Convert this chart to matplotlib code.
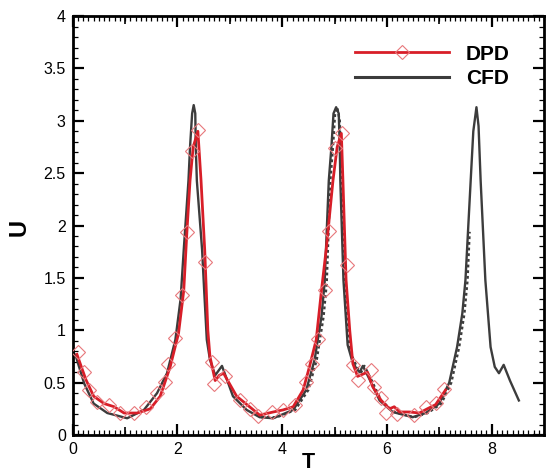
import numpy as np
import matplotlib
matplotlib.use("Agg")
import matplotlib.pyplot as plt
from matplotlib.ticker import MultipleLocator, FormatStrFormatter, FixedLocator, NullFormatter
from matplotlib.lines import Line2D

plt.rcParams["font.family"] = ["Liberation Sans", "DejaVu Sans"]

# CFD, solid run (T, U)
cfd_t = [0.00, 0.06, 0.22, 0.40, 0.66, 1.04, 1.36, 1.61, 1.80, 1.96, 2.06, 2.12,
         2.21, 2.24, 2.28, 2.31, 2.34, 2.35, 2.37, 2.42, 2.47, 2.51, 2.56, 2.62,
         2.72, 2.85, 3.06, 3.32, 3.57, 3.83, 4.21, 4.46, 4.62, 4.75, 4.81, 4.89,
         4.94, 4.98, 5.03, 5.08, 5.10, 5.11, 5.17, 5.25, 5.33, 5.42, 5.48, 5.54,
         5.67, 5.86, 6.11, 6.49, 6.74, 7.00, 7.19, 7.34, 7.44, 7.50, 7.60, 7.65,
         7.71, 7.75, 7.79, 7.88, 7.98, 8.06, 8.14, 8.23, 8.35, 8.52]
cfd_u = [0.80, 0.75, 0.49, 0.30, 0.21, 0.16, 0.24, 0.40, 0.59, 0.91, 1.30, 1.77,
         2.43, 2.75, 3.07, 3.15, 3.07, 2.75, 2.43, 2.10, 1.77, 1.38, 0.91, 0.72,
         0.57, 0.66, 0.37, 0.24, 0.17, 0.16, 0.24, 0.43, 0.72, 1.13, 1.45, 2.43,
         2.75, 3.07, 3.13, 3.07, 2.75, 2.43, 1.48, 0.86, 0.72, 0.63, 0.60, 0.66,
         0.53, 0.33, 0.22, 0.17, 0.21, 0.30, 0.50, 0.84, 1.16, 1.48, 2.43, 2.90,
         3.13, 2.95, 2.43, 1.48, 0.84, 0.65, 0.59, 0.67, 0.52, 0.33]

# CFD, second (dotted) run
cfd2_t = [3.60, 3.90, 4.25, 4.50, 4.66, 4.79, 4.85, 4.92, 4.97, 5.01, 5.05, 5.10,
          5.13, 5.19, 5.28, 5.36, 5.45, 5.51, 5.57, 5.70, 5.89, 6.14, 6.52, 6.78,
          7.04, 7.23, 7.38, 7.48, 7.54, 7.58]
cfd2_u = [0.17, 0.17, 0.24, 0.43, 0.72, 1.13, 1.45, 2.43, 2.75, 3.07, 3.13, 3.00,
          2.43, 1.48, 0.86, 0.72, 0.63, 0.60, 0.66, 0.53, 0.33, 0.22, 0.17, 0.21,
          0.30, 0.50, 0.84, 1.16, 1.48, 1.94]

# DPD line
dpd_t = [0.08, 0.25, 0.40, 0.60, 0.79, 0.98, 1.23, 1.48, 1.67, 1.86, 2.02, 2.12,
         2.18, 2.24, 2.30, 2.39, 2.45, 2.52, 2.58, 2.62, 2.72, 2.80, 2.88, 3.13,
         3.45, 3.57, 3.83, 4.02, 4.21, 4.40, 4.52, 4.65, 4.75, 4.84, 4.97, 5.05,
         5.13, 5.16, 5.22, 5.29, 5.35, 5.44, 5.63, 5.73, 5.89, 6.05, 6.14, 6.24,
         6.43, 6.62, 6.77, 6.93, 7.12]
dpd_u = [0.77, 0.53, 0.37, 0.30, 0.27, 0.21, 0.21, 0.25, 0.37, 0.65, 0.97, 1.38,
         1.94, 2.43, 2.75, 2.90, 2.43, 1.77, 1.00, 0.75, 0.52, 0.57, 0.59, 0.37,
         0.24, 0.19, 0.22, 0.24, 0.27, 0.43, 0.65, 0.91, 1.38, 1.77, 2.43, 2.75,
         2.88, 2.43, 1.48, 1.00, 0.68, 0.56, 0.60, 0.46, 0.33, 0.25, 0.27, 0.22,
         0.22, 0.21, 0.25, 0.29, 0.43]

# DPD samples (diamonds)
dpd_mt = [0.10, 0.22, 0.31, 0.47, 0.69, 0.91, 1.17, 1.39, 1.61, 1.77, 1.82, 1.96,
          2.08, 2.18, 2.28, 2.40, 2.53, 2.66, 2.69, 2.91, 3.19, 3.38, 3.54, 3.80,
          4.02, 4.24, 4.46, 4.56, 4.68, 4.81, 4.90, 5.00, 5.14, 5.23, 5.35, 5.44,
          5.70, 5.76, 5.89, 5.98, 6.20, 6.52, 6.74, 6.93, 7.09]
dpd_mu = [0.79, 0.60, 0.43, 0.32, 0.29, 0.21, 0.21, 0.27, 0.40, 0.51, 0.68, 0.93,
          1.34, 1.94, 2.71, 2.91, 1.65, 0.70, 0.49, 0.56, 0.33, 0.25, 0.18, 0.22,
          0.24, 0.29, 0.51, 0.68, 0.92, 1.38, 1.95, 2.74, 2.88, 1.62, 0.67, 0.53,
          0.62, 0.46, 0.35, 0.21, 0.20, 0.19, 0.27, 0.31, 0.44]

RED = "#d81e28"
MK = "#e8787c"
DARK = "#3c3c3c"

fig = plt.figure(figsize=(5.47, 4.73), dpi=100)
ax = fig.add_axes([0.133, 0.0803, 0.8615, 0.8857])

ax.plot(cfd_t, cfd_u, color=DARK, lw=1.7, zorder=2)
ax.plot(cfd2_t, cfd2_u, color=DARK, lw=1.7, ls=(0, (1.2, 1.2)), zorder=2)
ax.plot(dpd_t, dpd_u, color=RED, lw=2.0, zorder=3)
ax.plot(dpd_mt, dpd_mu, ls="none", marker="D", ms=7.5, mfc="none",
        mec=MK, mew=0.8, zorder=4)

ax.set_xlim(0, 9)
ax.set_ylim(0, 4)

ax.xaxis.set_major_locator(MultipleLocator(2))
ax.xaxis.set_minor_locator(MultipleLocator(0.1))
ax.yaxis.set_major_locator(MultipleLocator(0.5))
ax.yaxis.set_minor_locator(MultipleLocator(0.1))
ax.yaxis.set_major_formatter(FormatStrFormatter("%g"))
ax.xaxis.set_major_formatter(FormatStrFormatter("%g"))

ax.tick_params(which="both", direction="in", top=True, right=True,
               labelsize=11.5, colors="black")
ax.tick_params(which="major", length=8, width=1.6, pad=5)
ax.tick_params(which="minor", length=3.5, width=0.9)
for s in ax.spines.values():
    s.set_linewidth(2.0)

# medium ticks at odd integers
for loc in ("bottom", "top"):
    sec = ax.secondary_xaxis(loc)
    sec.xaxis.set_major_locator(FixedLocator([1, 3, 5, 7]))
    sec.xaxis.set_major_formatter(NullFormatter())
    sec.tick_params(direction="in", length=5.5, width=1.2)
    sec.spines[loc].set_visible(False)

ax.set_xlabel("T", fontsize=15.5, fontweight="bold", labelpad=0)
ax.set_ylabel("U", fontsize=17, fontweight="bold")
ax.xaxis.set_label_coords(0.5, -0.04)
ax.yaxis.set_label_coords(-0.09, 0.495)

handles = [
    Line2D([0], [0], color=RED, lw=2.0, marker="D", ms=7.5, mfc="none",
           mec=MK, mew=0.8),
    Line2D([0], [0], color=DARK, lw=2.2),
]
leg = ax.legend(handles, ["DPD", "CFD"], loc="upper left", numpoints=1,
                bbox_to_anchor=(0.6, 0.932), frameon=False, borderpad=0,
                borderaxespad=0, handlelength=4.5, handletextpad=0.8,
                labelspacing=0.28, prop={"weight": "bold", "size": 15})

fig.savefig("out.png", dpi=100)
